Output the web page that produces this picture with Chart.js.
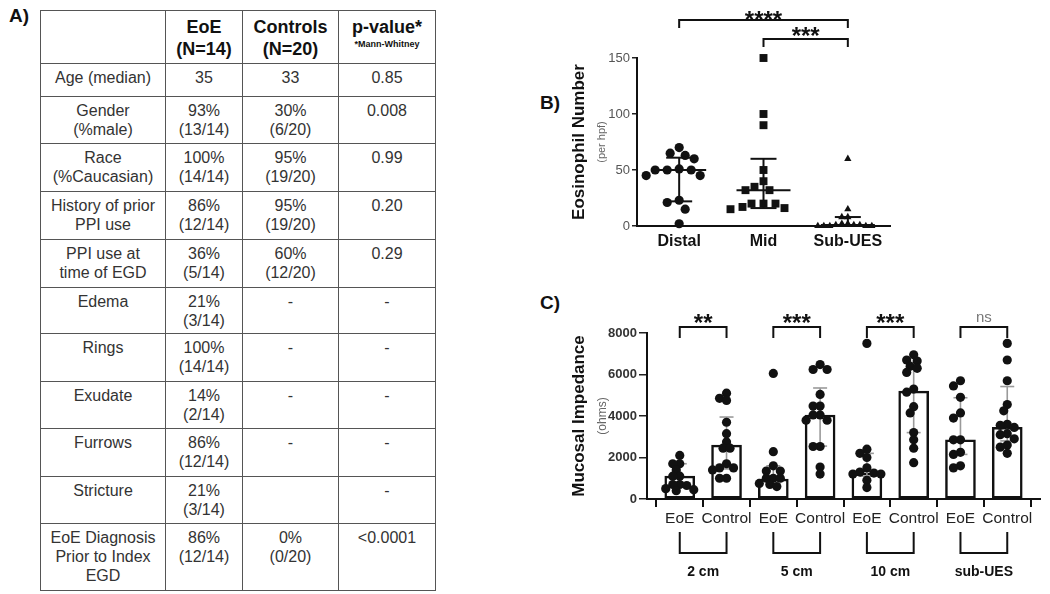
<!DOCTYPE html>
<html><head><meta charset="utf-8">
<script src="https://cdn.jsdelivr.net/npm/chart.js@4.4.1/dist/chart.umd.min.js"></script>
<style>
html,body{margin:0;padding:0;background:#fff;width:1050px;height:594px;overflow:hidden;font-family:'Liberation Sans',Arial,sans-serif;}
.lbl{position:absolute;font-weight:bold;font-size:19px;color:#111;}
table{position:absolute;left:40px;top:10px;border-collapse:collapse;table-layout:fixed;}
td{border:1.5px solid #555;text-align:center;vertical-align:top;padding:4px 2px 0 2px;font-size:16px;line-height:19px;color:#333;white-space:pre-line;}
td.h{font-weight:bold;font-size:18px;line-height:22px;color:#111;padding-top:5px;}
canvas{position:absolute;}
</style></head>
<body>
<div class="lbl" style="left:9px;top:5px">A)</div>
<table id="tbl"></table>
<div class="lbl" style="left:540px;top:92px">B)</div>
<canvas id="chartB" width="340" height="260" style="left:560px;top:0px"></canvas>
<div class="lbl" style="left:540px;top:292px">C)</div>
<canvas id="chartC" width="490" height="304" style="left:560px;top:290px"></canvas>
<script>
// ---------- Table A data ----------
const tableHeader = ['', 'EoE\n(N=14)', 'Controls\n(N=20)', 'p-value*'];
const tableNote = '*Mann-Whitney';
const tableRows = [
  ['Age (median)', '35', '33', '0.85'],
  ['Gender\n(%male)', '93%\n(13/14)', '30%\n(6/20)', '0.008'],
  ['Race\n(%Caucasian)', '100%\n(14/14)', '95%\n(19/20)', '0.99'],
  ['History of prior\nPPI use', '86%\n(12/14)', '95%\n(19/20)', '0.20'],
  ['PPI use at\ntime of EGD', '36%\n(5/14)', '60%\n(12/20)', '0.29'],
  ['Edema', '21%\n(3/14)', '-', '-'],
  ['Rings', '100%\n(14/14)', '-', '-'],
  ['Exudate', '14%\n(2/14)', '-', '-'],
  ['Furrows', '86%\n(12/14)', '-', '-'],
  ['Stricture', '21%\n(3/14)', '', '-'],
  ['EoE Diagnosis\nPrior to Index\nEGD', '86%\n(12/14)', '0%\n(0/20)', '<0.0001']
];

// ---------- Panel B data ----------
const bCategories = ['Distal', 'Mid', 'Sub-UES'];
const distalValues = [70, 65, 63, 60, 51, 50, 50, 50, 45, 45, 23, 21, 15, 2];
const midValues = [150, 100, 90, 50, 40, 35, 32, 32, 20, 20, 20, 17, 16, 15];
const subUesValues = [60, 15, 8, 8, 2, 2, 1, 1, 1, 0, 0, 0, 0, 0];
const bMedian = [50, 32, 1];
const bLower = [22, 16, 0];
const bUpper = [61, 60, 8];
const bYTicks = [0, 50, 100, 150];
const bComparisons = [[0, 2, '****'], [1, 2, '***']];

// ---------- Panel C data ----------
const cLabels = ['EoE', 'Control', 'EoE', 'Control', 'EoE', 'Control', 'EoE', 'Control'];
const cGroups = ['2 cm', '5 cm', '10 cm', 'sub-UES'];
const cSignif = ['**', '***', '***', 'ns'];
const cBarValues = [1100, 2600, 960, 4050, 1250, 5200, 2850, 3450];
const cErrLow = [700, 1450, 620, 2550, 1100, 3200, 2150, 2800];
const cErrHigh = [1700, 3950, 1600, 5350, 2200, 6450, 4880, 5420];
const eoe2cm = [2100, 1700, 1700, 1400, 1100, 1100, 700, 700, 650, 500, 450, 400];
const control2cm = [5100, 4850, 4750, 3700, 3150, 2750, 2450, 2450, 1700, 1500, 1500, 1400, 1000, 1000];
const eoe5cm = [6050, 2280, 1600, 1350, 1350, 1000, 1000, 1000, 750, 700, 600];
const control5cm = [6480, 6240, 6240, 5040, 4480, 4480, 4050, 4050, 3800, 3800, 2530, 2530, 1540, 1200];
const eoe10cm = [7500, 2400, 2200, 2000, 1500, 1300, 1250, 1200, 1200, 900, 550];
const control10cm = [6950, 6700, 6650, 6400, 6300, 6100, 5300, 5150, 4450, 4150, 3200, 2850, 2450, 1750];
const eoeSubUes = [5700, 5450, 4900, 4150, 3900, 2850, 2850, 2250, 2150, 1600, 1500];
const controlSubUes = [7500, 6700, 5700, 4550, 4250, 3600, 3550, 3450, 3150, 3100, 2900, 2600, 2500, 2200];
const cYTicks = [0, 2000, 4000, 6000, 8000];

// ---------- build table ----------
const rowHeights = [53, 33, 47, 48, 48, 48, 46, 48, 47, 48, 47, 67];
const colWidths = [125, 77, 96, 97];
(function buildTable(){
  const t = document.getElementById('tbl');
  let html = '<colgroup>' + colWidths.map(w => `<col style="width:${w}px">`).join('') + '</colgroup>';
  html += `<tr style="height:${rowHeights[0]}px">` + tableHeader.map((h, i) => {
    if (i === 3) return `<td class="h">${h}<div style="font-size:9px;line-height:11px;margin-top:1px">${tableNote}</div></td>`;
    return `<td class="h">${h}</td>`;
  }).join('') + '</tr>';
  tableRows.forEach((r, ri) => {
    html += `<tr style="height:${rowHeights[ri + 1]}px">` + r.map(c => `<td>${c.replace(/</g,'&lt;')}</td>`).join('') + '</tr>';
  });
  t.innerHTML = html;
})();

Chart.defaults.font.family = "'Liberation Sans', Arial, sans-serif";
Chart.defaults.animation = false;

function line(ctx, x1, y1, x2, y2){ ctx.beginPath(); ctx.moveTo(x1, y1); ctx.lineTo(x2, y2); ctx.stroke(); }

// simple beeswarm: places points in pixel space, returns data-space coordinates
function swarm(values, center, xs, ys, diam, step){
  const placed = [], out = [];
  const cx = xs.getPixelForValue(center);
  const sorted = values.slice().sort((a, b) => b - a);
  for (const v of sorted){
    const py = ys.getPixelForValue(v);
    for (let k = 0; k < 400; k++){
      const off = (k % 2 === 1 ? -1 : 1) * Math.ceil(k / 2) * step;
      const px = cx + off;
      if (placed.every(q => Math.hypot(q.x - px, q.y - py) >= diam)){
        placed.push({x: px, y: py});
        out.push({x: xs.getValueForPixel(px), y: v});
        break;
      }
    }
  }
  return out;
}

// ---------- Panel B ----------
const bPlugin = {
  id: 'bExtras',
  afterDatasetsDraw(chart){
    const ctx = chart.ctx, xs = chart.scales.x, ys = chart.scales.y;
    ctx.save();
    ctx.strokeStyle = '#111'; ctx.lineWidth = 2;
    bMedian.forEach((m, i) => {
      const cx = xs.getPixelForValue(i);
      const yM = ys.getPixelForValue(m), yL = ys.getPixelForValue(bLower[i]), yU = ys.getPixelForValue(bUpper[i]);
      line(ctx, cx, yL, cx, yU);
      line(ctx, cx - 13, yL, cx + 13, yL);
      line(ctx, cx - 13, yU, cx + 13, yU);
      line(ctx, cx - 27, yM, cx + 27, yM);
    });
    const levels = [20, 39];
    const starBase = [28, 44];
    ctx.fillStyle = '#111';
    ctx.font = "bold 24px 'Liberation Sans', Arial, sans-serif";
    ctx.textAlign = 'center'; ctx.textBaseline = 'alphabetic';
    bComparisons.forEach((c, k) => {
      const x1 = xs.getPixelForValue(c[0]), x2 = xs.getPixelForValue(c[1]);
      const y = levels[k];
      ctx.beginPath(); ctx.moveTo(x1, y + 8); ctx.lineTo(x1, y); ctx.lineTo(x2, y); ctx.lineTo(x2, y + 8); ctx.stroke();
      ctx.fillText(c[2], (x1 + x2) / 2, starBase[k]);
    });
    ctx.save();
    ctx.translate(42, (chart.chartArea.top + chart.chartArea.bottom) / 2);
    ctx.rotate(-Math.PI / 2);
    ctx.fillStyle = '#666';
    ctx.font = "11px 'Liberation Sans', Arial, sans-serif";
    ctx.textBaseline = 'middle';
    ctx.fillText('(per hpf)', 0, 0);
    ctx.restore();
    ctx.restore();
  }
};

const chartB = new Chart(document.getElementById('chartB'), {
  type: 'scatter',
  data: { datasets: [
    { data: [], pointStyle: 'circle', pointRadius: 4.6, backgroundColor: '#111', borderColor: '#111', borderWidth: 0, clip: false },
    { data: [], pointStyle: 'rect', pointRadius: 5.6, backgroundColor: '#111', borderColor: '#111', borderWidth: 0, clip: false },
    { data: [], pointStyle: 'triangle', pointRadius: 4.2, backgroundColor: '#111', borderColor: '#111', borderWidth: 0, clip: false }
  ]},
  options: {
    responsive: false,
    layout: { padding: { top: 58, right: 10, left: 0, bottom: 0 } },
    plugins: { legend: { display: false }, tooltip: { enabled: false } },
    scales: {
      x: {
        type: 'linear', min: -0.5, max: 2.5,
        afterBuildTicks: ax => { ax.ticks = bCategories.map((_, i) => ({ value: i })); },
        afterFit: ax => { ax.height = 34; },
        grid: { display: false, drawTicks: false },
        border: { display: true, color: '#111', width: 2 },
        ticks: { autoSkip: false, maxRotation: 0, padding: 6, color: '#111',
          font: { size: 16, weight: 'bold' }, callback: v => bCategories[v] }
      },
      y: {
        min: 0, max: 150,
        afterBuildTicks: ax => { ax.ticks = bYTicks.map(v => ({ value: v })); },
        afterFit: ax => { ax.width = 77; },
        grid: { drawOnChartArea: false, tickLength: 5, color: '#222', lineWidth: 1.5 },
        border: { display: true, color: '#111', width: 2 },
        ticks: { padding: 2, color: '#555', font: { size: 13 }, callback: v => String(v) },
        title: { display: true, text: 'Eosinophil Number', color: '#111',
          font: { size: 17, weight: 'bold' }, padding: { top: 9, bottom: 0 } }
      }
    }
  },
  plugins: [bPlugin]
});
(function(){
  const xs = chartB.scales.x, ys = chartB.scales.y;
  chartB.data.datasets[0].data = swarm(distalValues, 0, xs, ys, 9.5, 3);
  chartB.data.datasets[1].data = swarm(midValues, 1, xs, ys, 9.5, 3);
  chartB.data.datasets[2].data = swarm(subUesValues, 2, xs, ys, 4.5, 3);
  chartB.update('none');
})();

// ---------- Panel C ----------
const cPoints = [eoe2cm, control2cm, eoe5cm, control5cm, eoe10cm, control10cm, eoeSubUes, controlSubUes];
const cPlugin = {
  id: 'cExtras',
  afterDatasetDraw(chart, args){
    if (args.index !== 1) return; // after bars, before points
    const ctx = chart.ctx, xs = chart.scales.x, ys = chart.scales.y;
    ctx.save();
    ctx.strokeStyle = '#9a9a9a'; ctx.lineWidth = 1.6;
    cBarValues.forEach((_, i) => {
      const cx = xs.getPixelForValue(i);
      const yL = ys.getPixelForValue(cErrLow[i]), yU = ys.getPixelForValue(cErrHigh[i]);
      line(ctx, cx, yL, cx, yU);
      line(ctx, cx - 7, yL, cx + 7, yL);
      line(ctx, cx - 7, yU, cx + 7, yU);
    });
    ctx.restore();
  },
  afterDraw(chart){
    const ctx = chart.ctx, xs = chart.scales.x;
    ctx.save();
    ctx.strokeStyle = '#111'; ctx.lineWidth = 2;
    ctx.textAlign = 'center'; ctx.textBaseline = 'alphabetic';
    cGroups.forEach((g, k) => {
      const x1 = xs.getPixelForValue(2 * k), x2 = xs.getPixelForValue(2 * k + 1);
      ctx.beginPath(); ctx.moveTo(x1, 48); ctx.lineTo(x1, 37); ctx.lineTo(x2, 37); ctx.lineTo(x2, 48); ctx.stroke();
      if (cSignif[k] === 'ns'){
        ctx.fillStyle = '#777'; ctx.font = "15px 'Liberation Sans', Arial, sans-serif";
        ctx.fillText(cSignif[k], (x1 + x2) / 2, 32);
      } else {
        ctx.fillStyle = '#111'; ctx.font = "bold 24px 'Liberation Sans', Arial, sans-serif";
        ctx.fillText(cSignif[k], (x1 + x2) / 2, 41);
      }
      ctx.beginPath(); ctx.moveTo(x1, 242); ctx.lineTo(x1, 263); ctx.lineTo(x2, 263); ctx.lineTo(x2, 242); ctx.stroke();
      ctx.fillStyle = '#111'; ctx.font = "bold 14px 'Liberation Sans', Arial, sans-serif";
      ctx.textBaseline = 'middle';
      ctx.fillText(g, (x1 + x2) / 2, 282);
      ctx.textBaseline = 'alphabetic';
    });
    ctx.translate(43, (chart.chartArea.top + chart.chartArea.bottom) / 2);
    ctx.rotate(-Math.PI / 2);
    ctx.fillStyle = '#666';
    ctx.font = "12px 'Liberation Sans', Arial, sans-serif";
    ctx.textBaseline = 'middle';
    ctx.fillText('(ohms)', 0, 0);
    ctx.restore();
  }
};

const chartC = new Chart(document.getElementById('chartC'), {
  type: 'bar',
  data: { datasets: [
    { type: 'scatter', data: [], pointStyle: 'circle', pointRadius: 4.6, backgroundColor: '#111', borderColor: '#111', borderWidth: 0, clip: false },
    { type: 'bar', data: cBarValues.map((v, i) => ({ x: i, y: v })), backgroundColor: '#fff', borderColor: '#111', borderWidth: 2.5, barThickness: 30, borderSkipped: false }
  ]},
  options: {
    responsive: false,
    layout: { padding: { top: 43, right: 10, left: 0, bottom: 0 } },
    plugins: { legend: { display: false }, tooltip: { enabled: false } },
    scales: {
      x: {
        type: 'linear', min: -0.7, max: 7.7, offset: false,
        afterBuildTicks: ax => { ax.ticks = cLabels.map((_, i) => ({ value: i })); },
        afterFit: ax => { ax.height = 95; },
        grid: { drawOnChartArea: false, tickLength: 8, color: '#111', lineWidth: 2 },
        border: { display: true, color: '#111', width: 2 },
        ticks: { autoSkip: false, maxRotation: 0, padding: 2, color: '#222',
          font: { size: 15.5 }, callback: v => cLabels[v] }
      },
      y: {
        min: 0, max: 8000,
        afterBuildTicks: ax => { ax.ticks = cYTicks.map(v => ({ value: v })); },
        afterFit: ax => { ax.width = 87; },
        grid: { drawOnChartArea: false, tickLength: 8, color: '#222', lineWidth: 1.5 },
        border: { display: true, color: '#111', width: 2 },
        ticks: { padding: 2, color: '#333', font: { size: 13, weight: 'bold' }, callback: v => String(v) },
        title: { display: true, text: 'Mucosal Impedance', color: '#111',
          font: { size: 17, weight: 'bold' }, padding: { top: 9, bottom: 0 } }
      }
    }
  },
  plugins: [cPlugin]
});
(function(){
  const xs = chartC.scales.x, ys = chartC.scales.y;
  let pts = [];
  cPoints.forEach((vals, i) => { pts = pts.concat(swarm(vals, i, xs, ys, 6.5, 3.5)); });
  chartC.data.datasets[0].data = pts;
  chartC.update('none');
})();
</script>
</body></html>
